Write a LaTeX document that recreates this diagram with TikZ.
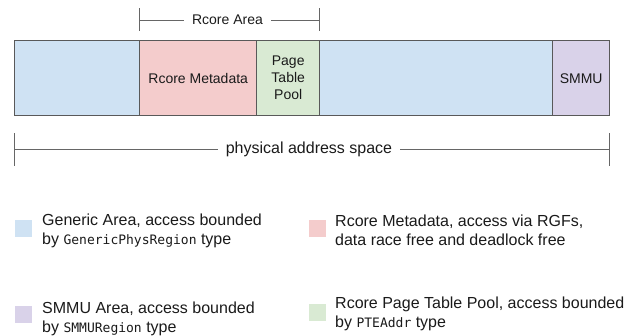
\documentclass[tikz,border=0pt]{standalone}
\usepackage{fontspec}
\setmainfont{Liberation Sans}
\newfontfamily\codefont{DejaVu Sans Mono}
\newcommand\mcode[1]{{\codefont\fontsize{13}{19}\selectfont #1}}
\definecolor{gblue}{HTML}{CFE2F3}
\definecolor{gred}{HTML}{F4CCCC}
\definecolor{ggreen}{HTML}{D9EAD3}
\definecolor{gpurple}{HTML}{D9D2E9}
\definecolor{edgegray}{HTML}{595959}
\definecolor{linegray}{HTML}{666666}
\definecolor{txt}{HTML}{1A1A1A}
\begin{document}
\begin{tikzpicture}[x=1pt,y=-1pt,
  seg/.style={draw=edgegray, line width=1.4pt, minimum height=75pt, inner sep=0,
    anchor=north west, align=center, text=txt, font=\fontsize{14}{17}\selectfont},
  brlabel/.style={inner xsep=8pt, inner ysep=0pt, text=txt},
  brline/.style={draw=linegray, line width=0.9pt},
  swatch/.style={minimum size=17pt, inner sep=0, draw=none},
  leg/.style={anchor=north west, inner sep=0, align=left, text=txt,
    font=\fontsize{16}{19}\selectfont}]
\useasboundingbox (0,0) rectangle (639,335);

% memory bar
\node[seg, fill=gblue, minimum width=125pt] (g1) at (14,40) {};
\node[seg, fill=gred, minimum width=117pt] (meta) at (139,40) {Rcore Metadata};
\node[seg, fill=ggreen, minimum width=63pt] (ptp) at (256,40) {Page\\Table\\Pool};
\node[seg, fill=gblue, minimum width=233pt] (g2) at (319,40) {};
\node[seg, fill=gpurple, minimum width=57pt] (smmu) at (552,40) {SMMU};

% Rcore Area bracket
\coordinate (ra-l) at (139,20);
\coordinate (ra-r) at (319,20);
\coordinate (ra-lt) at (139,8);
\coordinate (ra-lb) at (139,31);
\coordinate (ra-rt) at (319,8);
\coordinate (ra-rb) at (319,31);
\node[brlabel, font=\fontsize{14}{17}\selectfont] (ra) at (227.5,20) {Rcore Area};
\draw[brline] (ra-lt) -- (ra-lb);
\draw[brline] (ra-rt) -- (ra-rb);
\draw[brline] (ra-l) -- (ra.west);
\draw[brline] (ra.east) -- (ra-r);

% physical address space bracket
\coordinate (pa-l) at (14,149);
\coordinate (pa-r) at (609,149);
\coordinate (pa-lt) at (14,133);
\coordinate (pa-lb) at (14,166);
\coordinate (pa-rt) at (609,133);
\coordinate (pa-rb) at (609,166);
\node[brlabel, font=\fontsize{16}{19}\selectfont] (pa) at (309,149) {physical address space};
\draw[brline] (pa-lt) -- (pa-lb);
\draw[brline] (pa-rt) -- (pa-rb);
\draw[brline] (pa-l) -- (pa.west);
\draw[brline] (pa.east) -- (pa-r);

% legend
\node[swatch, fill=gblue] (sw1) at (23.5,228.5) {};
\node[leg] (lt1) at (42,214) {Generic Area, access bounded\\by \mcode{GenericPhysRegion} type};
\node[swatch, fill=gred] (sw2) at (317.5,228.5) {};
\node[leg] (lt2) at (335,215) {Rcore Metadata, access via RGFs,\\data race free and deadlock free};
\node[swatch, fill=gpurple] (sw3) at (23.5,314) {};
\node[leg] (lt3) at (42,302) {SMMU Area, access bounded\\by \mcode{SMMURegion} type};
\node[swatch, fill=ggreen] (sw4) at (317,312) {};
\node[leg] (lt4) at (335,297) {Rcore Page Table Pool, access bounded\\by \mcode{PTEAddr} type};
\end{tikzpicture}
\end{document}
